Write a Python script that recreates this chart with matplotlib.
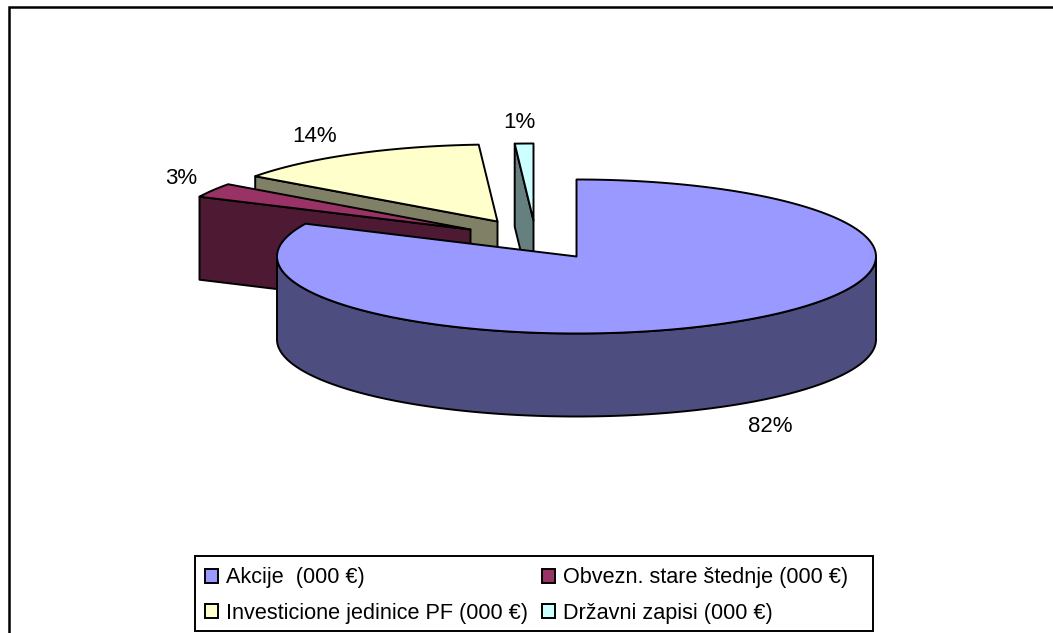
import numpy as np
import matplotlib
matplotlib.use("Agg")
import matplotlib.pyplot as plt
from matplotlib.patches import Polygon, Patch, Rectangle

plt.rcParams['font.family'] = ['Liberation Sans', 'DejaVu Sans']

categories = ['Akcije  (000 €)', 'Obvezn. stare štednje (000 €)',
              'Investicione jedinice PF (000 €)', 'Državni zapisi (000 €)']
shares = [82, 3, 14, 1]
top_colors = ['#9999FF', '#993366', '#FFFFCC', '#CCFFFF']
side_colors = ['#4D4D80', '#4D1933', '#808066', '#668080']

# Layout in figure pixels
CX, CY, RX, RY, DEPTH = 576.5, 256.5, 299.5, 77, 83
explode_px = [(0, 0), (-106, -27), (-79, -35), (-43, -36)]
label_px = [(770, 427), (181, 178), (315, 136), (519, 122)]
LW = 1.4

fig = plt.figure(figsize=(10.53, 6.33), dpi=100)
ax = fig.add_axes([0, 0, 1, 1])
ax.set_xlim(0, 1053)
ax.set_ylim(633, 0)
ax.axis('off')

ax.plot([9, 9, 1053], [633, 7, 7], color='black', lw=1.8, solid_joinstyle='miter', zorder=1)


def rim(apex, a0, a1, n=None):
    n = n or max(2, int(abs(a1 - a0)) * 2)
    t = np.radians(np.linspace(a0, a1, n))
    return np.column_stack([apex[0] + RX * np.sin(t), apex[1] - RY * np.cos(t)])


def face(pts, color, z):
    ax.add_patch(Polygon(pts, closed=True, facecolor=color, edgecolor='black',
                         lw=LW, joinstyle='round', zorder=z))


edges = np.concatenate([[0], np.cumsum(shares)]) / np.sum(shares) * 360
down = np.array([0, DEPTH])

# Slices are painted from back to front
for z, i in enumerate([3, 2, 1, 0]):
    a0, a1 = edges[i], edges[i + 1]
    apex = np.array([CX + explode_px[i][0], CY + explode_px[i][1]])
    base = 10 + z * 5
    if i == 0:
        # outer curved wall of the big slice, visible between 90 and 270 degrees
        arc = rim(apex, 90, 270)
        face(np.vstack([arc, (arc + down)[::-1]]), side_colors[i], base)
    else:
        # radial wall on the left edge of each exploded slice
        end = rim(apex, a0, a0, 2)[0]
        face(np.array([end, apex, apex + down, end + down]), side_colors[i], base)
    top = np.vstack([apex, rim(apex, a0, a1)])
    face(top, top_colors[i], base + 1)

for share, (x, y) in zip(shares, label_px):
    ax.text(x, y, f'{share}%', ha='center', va='center', fontsize=16, color='black', zorder=40)

# Legend box, with entries filling row by row
ax.add_patch(Rectangle((195, 556), 678, 75, facecolor='white', edgecolor='black', lw=LW, zorder=49))
order = [0, 2, 1, 3]
handles = [Patch(facecolor=top_colors[i], edgecolor='black', lw=LW) for i in order]
leg = ax.legend(handles, [categories[i] for i in order], ncol=2, loc='upper left',
                bbox_to_anchor=(205 / 1053, 1 - 567.5 / 633), bbox_transform=ax.transAxes,
                fontsize=15.6, frameon=False,
                handlelength=0.6, handleheight=0.6, handletextpad=0.37,
                columnspacing=0.65, labelspacing=0.66, borderpad=0, borderaxespad=0)
leg.set_zorder(50)

fig.savefig('out.png', dpi=100)
